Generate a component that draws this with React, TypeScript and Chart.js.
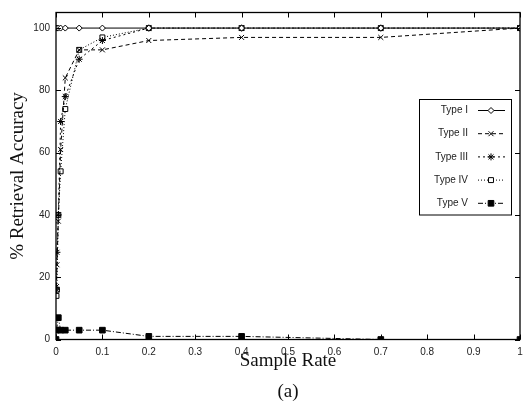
import React, { useEffect, useRef } from 'react';
import { Chart, registerables } from 'chart.js';
import { drawPoint } from 'chart.js/helpers';

Chart.register(...registerables);

// ---- data ----
const sampleRates = [0.001, 0.002, 0.005, 0.01, 0.02, 0.05, 0.1, 0.2, 0.4, 0.7, 1];
const typeI = [100, 100, 100, 100, 100, 100, 100, 100, 100, 100, 100];
const typeII = [17, 24, 38, 61, 84, 93, 93, 96, 97, 97, 100];
const typeIII = [16, 28, 40, 70, 78, 90, 96, 100, 100, 100, 100];
const typeIV = [14, 16, 40, 54, 74, 93, 97, 100, 100, 100, 100];
const typeVRates = [0, 0.001, 0.005, 0.01, 0.02, 0.05, 0.1, 0.2, 0.4, 0.7, 1];
const typeV = [0, 3, 7, 3, 3, 3, 3, 1, 1, 0, 0];
const seriesLabels = ['Type I', 'Type II', 'Type III', 'Type IV', 'Type V'];
const xTitle = ['Sample Rate', '(a)'];
const yTitle = '% Retrieval Accuracy';

const toPoints = (xs: number[], ys: number[]) => xs.map((x, i) => ({ x, y: ys[i] }));

const PLOT_RIGHT = 520;

const widenPlugin = {
  id: 'widenArea',
  afterLayout(chart: any) {
    const a = chart.chartArea;
    if (a.right < PLOT_RIGHT) {
      a.right = PLOT_RIGHT;
      a.width = a.right - a.left;
      const x = chart.scales.x;
      x.right = PLOT_RIGHT;
      x.width = x.right - x.left;
      x.configure();
      const y = chart.scales.y;
      y.configure();
    }
  },
};

const frameTicksPlugin = {
  id: 'frameTicks',
  afterDatasetsDraw(chart: any) {
    const { ctx, chartArea: a, scales } = chart;
    ctx.save();
    ctx.strokeStyle = '#000';
    ctx.lineWidth = 1;
    ctx.setLineDash([]);
    const tl = 5;
    ctx.beginPath();
    scales.x.ticks.forEach((t: any) => {
      const px = Math.round(scales.x.getPixelForValue(t.value)) + 0.5;
      ctx.moveTo(px, a.bottom);
      ctx.lineTo(px, a.bottom - tl);
      ctx.moveTo(px, a.top);
      ctx.lineTo(px, a.top + tl);
    });
    scales.y.ticks.forEach((t: any) => {
      const py = Math.round(scales.y.getPixelForValue(t.value)) + 0.5;
      ctx.moveTo(a.left, py);
      ctx.lineTo(a.left + tl, py);
      ctx.moveTo(a.right, py);
      ctx.lineTo(a.right - tl, py);
    });
    ctx.stroke();
    ctx.lineWidth = 1.3;
    ctx.strokeRect(a.left, a.top, a.right - a.left, a.bottom - a.top);
    ctx.restore();
  },
};

const legendPlugin = {
  id: 'gnuLegend',
  afterDraw(chart: any) {
    const ctx = chart.ctx;
    const bx = 419.5, by = 99.5, bw = 92, bh = 115.5;
    ctx.save();
    ctx.fillStyle = '#fff';
    ctx.fillRect(bx, by, bw, bh);
    ctx.strokeStyle = '#000';
    ctx.lineWidth = 1;
    ctx.setLineDash([]);
    ctx.strokeRect(bx, by, bw, bh);
    chart.data.datasets.forEach((ds: any, i: number) => {
      const y = 110.5 + i * 23.2;
      ctx.font = '10px "Liberation Sans", Arial, sans-serif';
      ctx.fillStyle = '#222';
      ctx.textAlign = 'right';
      ctx.textBaseline = 'middle';
      ctx.fillText(ds.label, 468, y);
      ctx.strokeStyle = '#000';
      ctx.lineWidth = 1;
      ctx.setLineDash(ds.borderDash || []);
      ctx.beginPath();
      ctx.moveTo(478, y);
      ctx.lineTo(505, y);
      ctx.stroke();
      ctx.setLineDash([]);
      ctx.fillStyle = ds.pointBackgroundColor;
      ctx.strokeStyle = ds.pointBorderColor;
      drawPoint(ctx, { pointStyle: ds.pointStyle, radius: ds.pointRadius, rotation: 0, borderWidth: 1 }, 491, y);
    });
    ctx.restore();
  },
};

export default function App() {
  const ref = useRef<HTMLCanvasElement | null>(null);
  useEffect(() => {
    document.body.style.margin = '0';
    if (!ref.current) return;
    const common = { borderColor: '#000', borderWidth: 1, tension: 0, pointBorderColor: '#000', pointBorderWidth: 1 };
    const chart = new Chart(ref.current, {
      type: 'line',
      data: {
        datasets: [
          { ...common, label: seriesLabels[0], data: toPoints(sampleRates, typeI), borderDash: [], pointStyle: 'rectRot', pointRadius: 3, pointBackgroundColor: '#fff' },
          { ...common, label: seriesLabels[1], data: toPoints(sampleRates, typeII), borderDash: [4, 3], pointStyle: 'crossRot', pointRadius: 3.5, pointBackgroundColor: '#000' },
          { ...common, label: seriesLabels[2], data: toPoints(sampleRates, typeIII), borderDash: [2, 3], pointStyle: 'star', pointRadius: 3.5, pointBackgroundColor: '#000' },
          { ...common, label: seriesLabels[3], data: toPoints(sampleRates, typeIV), borderDash: [1, 2], pointStyle: 'rect', pointRadius: 3.5, pointBackgroundColor: '#fff' },
          { ...common, label: seriesLabels[4], data: toPoints(typeVRates, typeV), borderDash: [5, 2, 1, 2], pointStyle: 'rect', pointRadius: 4, pointBackgroundColor: '#000' },
        ] as any,
      },
      options: {
        animation: false,
        responsive: false,
        maintainAspectRatio: false,
        layout: { autoPadding: false, padding: { left: 0, right: 3, top: 12.5, bottom: 0 } },
        plugins: { legend: { display: false }, tooltip: { enabled: false } },
        scales: {
          x: {
            type: 'linear',
            min: 0,
            max: 1,
            grid: { display: false, drawTicks: false },
            border: { display: false },
            ticks: {
              stepSize: 0.1,
              padding: 7,
              color: '#222',
              font: { family: '"Liberation Sans", Arial, sans-serif', size: 10 },
              maxRotation: 0,
              includeBounds: false,
              callback: (v: any) => String(Number(Number(v).toFixed(1))),
            },
            title: {
              display: true,
              text: xTitle,
              color: '#111',
              font: { family: '"Liberation Serif", "Times New Roman", serif', size: 19, lineHeight: '31px' },
              padding: { top: 0, bottom: -4 },
            },
            afterFit: (s: any) => { s.height = 64.5; },
          },
          y: {
            type: 'linear',
            min: 0,
            max: 105,
            grid: { display: false, drawTicks: false },
            border: { display: false },
            ticks: {
              stepSize: 20,
              padding: 6,
              color: '#222',
              font: { family: '"Liberation Sans", Arial, sans-serif', size: 10 },
              includeBounds: false,
            },
            title: {
              display: true,
              text: yTitle,
              color: '#111',
              font: { family: '"Liberation Serif", "Times New Roman", serif', size: 19, lineHeight: 1.2 },
              padding: { top: 7, bottom: 0 },
            },
            afterFit: (s: any) => { s.width = 56; },
          },
        },
      } as any,
      plugins: [widenPlugin, frameTicksPlugin, legendPlugin],
    });
    return () => chart.destroy();
  }, []);
  return (
    <div style={{ position: 'absolute', left: 0, top: 0, width: 523, height: 404, background: '#fff' }}>
      <canvas ref={ref} width={523} height={404} />
    </div>
  );
}
